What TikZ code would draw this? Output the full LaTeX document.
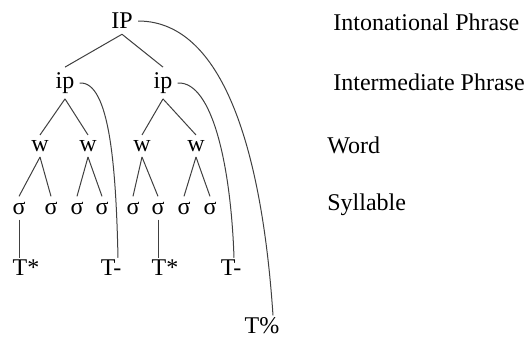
\documentclass[tikz,border=0pt]{standalone}
\usepackage{fontspec}
\setmainfont{Liberation Serif}
\usetikzlibrary{positioning}
\tikzset{
 unit/.style={inner sep=2.5pt,font=\fontsize{12}{14}\selectfont},
 tone/.style={inner sep=1pt,font=\fontsize{12}{14}\selectfont},
 tier/.style={anchor=west,inner sep=0pt,font=\fontsize{12}{14}\selectfont},
 branch/.style={draw=black!75,line width=0.5pt},
 assoc/.style={draw=black!75,line width=0.5pt}}

\begin{document}
\begin{tikzpicture}[x=0.5pt,y=-0.5pt]
\useasboundingbox (0,0) rectangle (525,337);
\node[unit] (IP) at (122,21) {IP};
\node[unit] (ipA) at (65,83) {ip};
\node[unit] (ipB) at (163,83) {ip};
\foreach \n/\x in {wA/40,wB/88,wC/142,wD/196} \node[unit] (\n) at (\x,146) {w};
\foreach \n/\x in {sA/19,sB/51,sC/77,sD/102,sE/133,sF/158,sG/184,sH/210} \node[unit] (\n) at (\x,208) {σ};
\node[tone] (tA) at (26,268) {T*};
\node[tone] (tB) at (111,268) {T-};
\node[tone] (tC) at (165,268) {T*};
\node[tone] (tD) at (231,268) {T-};
\node[tone] (tE) at (262,326) {T\%};
\node[tier] (lIP) at (333,22) {Intonational Phrase};
\node[tier] (lip) at (333,82) {Intermediate Phrase};
\node[tier] (lw) at (327,145) {Word};
\node[tier] (ls) at (327,205) {Syllable};
\foreach \a/\b in {IP/ipA,IP/ipB,ipA/wA,ipA/wB,ipB/wC,ipB/wD,wA/sA,wA/sB,wB/sC,wB/sD,wC/sE,wC/sF,wD/sG,wD/sH}
 \draw[branch] (\a.south) -- (\b.north);
\draw[assoc] (sA.south) -- (sA.south |- tA.north);
\draw[assoc] (sF.south) -- (sF.south |- tC.north);
\draw[assoc] (ipA.east) .. controls +(30,-2) and +(-2,-90) .. ([xshift=3.5pt]tB.north);
\draw[assoc] (ipB.east) .. controls +(35,-2) and +(-3,-90) .. ([xshift=1.5pt]tD.north);
\draw[assoc] (IP.east) .. controls +(90,0) and +(-10,-150) .. ([xshift=5.5pt]tE.north);
\end{tikzpicture}
\end{document}
